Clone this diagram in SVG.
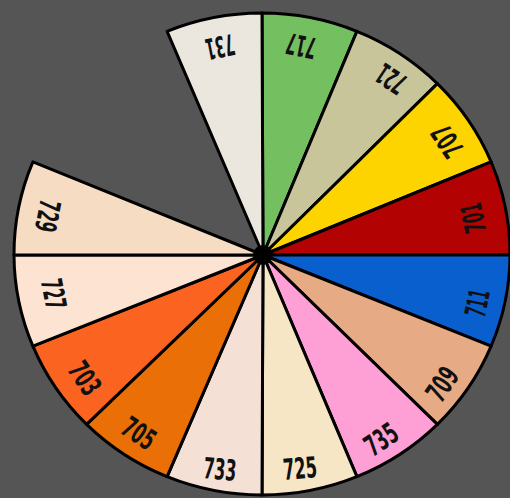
<svg xmlns="http://www.w3.org/2000/svg" width="510" height="498" viewBox="0 0 510 498">
<style>
.s{stroke:#000;stroke-width:3;stroke-linejoin:round}
.t{font-family:"DejaVu Sans Condensed","DejaVu Sans",sans-serif;font-size:29px;font-weight:bold;fill:#111;text-anchor:middle}
</style>
<rect width="510" height="498" fill="#555555"/>
<g id="s717"><path class="s" fill="#74bf5f" d="M263 255 L262 13 A248 241 0 0 1 356.9 31.3 Z"/><text class="t" transform="translate(301,46) rotate(-168.75)" dy="10.5" textLength="30" lengthAdjust="spacingAndGlyphs">717</text></g>
<g id="s721"><path class="s" fill="#c9c59b" d="M263 255 L356.9 31.3 A248 241 0 0 1 437.4 83.6 Z"/><text class="t" transform="translate(391,79) rotate(-146.25)" dy="10.5" textLength="30" lengthAdjust="spacingAndGlyphs">721</text></g>
<g id="s707"><path class="s" fill="#fdd400" d="M263 255 L437.4 83.6 A248 241 0 0 1 491.1 161.8 Z"/><text class="t" transform="translate(447,141) rotate(-123.75)" dy="10.5" textLength="33" lengthAdjust="spacingAndGlyphs">707</text></g>
<g id="s701"><path class="s" fill="#b20202" d="M263 255 L491.1 161.8 A248 241 0 0 1 510 255 Z"/><text class="t" transform="translate(473,218) rotate(-101.25)" dy="10.5" textLength="30" lengthAdjust="spacingAndGlyphs">701</text></g>
<g id="s711"><path class="s" fill="#0a5fce" d="M263 255 L510 255 A248 241 0 0 1 491.1 346.2 Z"/><text class="t" transform="translate(477,303) rotate(-78.75)" dy="10.5" textLength="27" lengthAdjust="spacingAndGlyphs">711</text></g>
<g id="s709"><path class="s" fill="#e6aa85" d="M263 255 L491.1 346.2 A248 241 0 0 1 437.4 424.4 Z"/><text class="t" transform="translate(442,384) rotate(-56.25)" dy="10.5" textLength="34" lengthAdjust="spacingAndGlyphs">709</text></g>
<g id="s735"><path class="s" fill="#fe9fd5" d="M263 255 L437.4 424.4 A248 241 0 0 1 356.9 476.7 Z"/><text class="t" transform="translate(381,439) rotate(-33.75)" dy="10.5" textLength="34" lengthAdjust="spacingAndGlyphs">735</text></g>
<g id="s725"><path class="s" fill="#f6e6c6" d="M263 255 L356.9 476.7 A248 241 0 0 1 262 495 Z"/><text class="t" transform="translate(300,468) rotate(-5)" dy="10.5" textLength="34" lengthAdjust="spacingAndGlyphs">725</text></g>
<g id="s733"><path class="s" fill="#f5e0d6" d="M263 255 L262 495 A248 241 0 0 1 167.1 476.7 Z"/><text class="t" transform="translate(220,469) rotate(5)" dy="10.5" textLength="33" lengthAdjust="spacingAndGlyphs">733</text></g>
<g id="s705"><path class="s" fill="#e96f06" d="M263 255 L167.1 476.7 A248 241 0 0 1 86.6 424.4 Z"/><text class="t" transform="translate(139,433) rotate(33.75)" dy="10.5" textLength="34" lengthAdjust="spacingAndGlyphs">705</text></g>
<g id="s703"><path class="s" fill="#fb6320" d="M263 255 L86.6 424.4 A248 241 0 0 1 32.9 346.2 Z"/><text class="t" transform="translate(85,378) rotate(56.25)" dy="10.5" textLength="34" lengthAdjust="spacingAndGlyphs">703</text></g>
<g id="s727"><path class="s" fill="#fde3d1" d="M263 255 L32.9 346.2 A248 241 0 0 1 14 255 Z"/><text class="t" transform="translate(54,294) rotate(78.75)" dy="10.5" textLength="30" lengthAdjust="spacingAndGlyphs">727</text></g>
<g id="s729"><path class="s" fill="#f5dcc2" d="M263 255 L14 255 A248 241 0 0 1 32.9 161.8 Z"/><text class="t" transform="translate(48,216) rotate(101.25)" dy="10.5" textLength="32" lengthAdjust="spacingAndGlyphs">729</text></g>
<g id="s731"><path class="s" fill="#ebe7df" d="M263 255 L167.1 31.3 A248 241 0 0 1 262 13 Z"/><text class="t" transform="translate(220,47) rotate(168.75)" dy="10.5" textLength="29" lengthAdjust="spacingAndGlyphs">731</text></g>
<g id="hub"><circle cx="263" cy="255" r="10" fill="#000"/></g>
</svg>
